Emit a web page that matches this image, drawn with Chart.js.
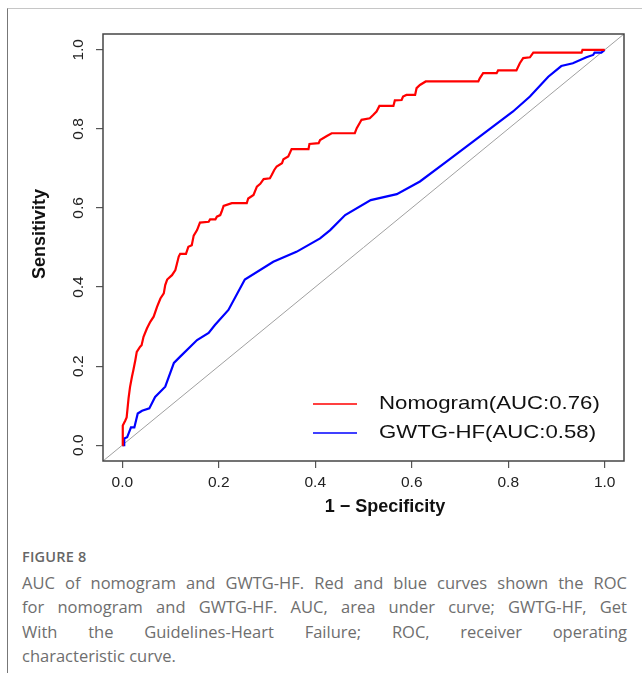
<!DOCTYPE html>
<html>
<head>
<meta charset="utf-8">
<script src="https://cdn.jsdelivr.net/npm/chart.js@4"></script>
<style>
  html, body { margin: 0; padding: 0; background: #fff; }
  body { width: 642px; height: 673px; position: relative; overflow: hidden; }
  #frame { position: absolute; left: 7px; top: 8px; width: 640px; height: 670px;
           border-top: 1px solid #c6c6c6; border-left: 1px solid #777; }
  #wrap { position: absolute; left: 0; top: 0; width: 642px; height: 530px; }
  #caption { position: absolute; left: 22px; top: 547px; width: 605px;
             font-family: 'Open Sans', sans-serif; color: #6e6e6e; }
  #caption .fig { font-size: 14.5px; font-weight: 600; color: #666; line-height: 20px; letter-spacing: .2px; margin-bottom: 4px; }
  #caption .ln { font-size: 16.5px; line-height: 24.3px; white-space: nowrap;
                 text-align: justify; text-align-last: justify; }
  #caption .ln.last { text-align-last: left; }
</style>
</head>
<body>
<div id="frame"></div>
<div id="wrap"><canvas id="roc" width="642" height="530"></canvas></div>
<div id="caption">
  <div class="fig">FIGURE 8</div>
  <div class="ln">AUC of nomogram and GWTG-HF. Red and blue curves shown the ROC</div>
  <div class="ln">for nomogram and GWTG-HF. AUC, area under curve; GWTG-HF, Get</div>
  <div class="ln">With the Guidelines-Heart Failure; ROC, receiver operating</div>
  <div class="ln last">characteristic curve.</div>
</div>
<script>
// ROC points (1 - specificity, sensitivity)
const nomoFpr = [0,0.001,0.006,0.009,0.013,0.016,0.020,0.023,0.027,0.030,0.037,0.040,0.044,0.051,0.058,0.065,0.072,0.079,0.086,0.089,0.093,0.103,0.110,0.117,0.120,0.132,0.137,0.144,0.148,0.155,0.161,0.179,0.182,0.193,0.196,0.203,0.206,0.210,0.227,0.258,0.261,0.272,0.279,0.286,0.293,0.306,0.310,0.315,0.320,0.331,0.334,0.344,0.351,0.386,0.388,0.407,0.410,0.424,0.434,0.482,0.486,0.496,0.513,0.520,0.527,0.533,0.562,0.565,0.579,0.582,0.589,0.607,0.610,0.617,0.629,0.738,0.741,0.748,0.776,0.779,0.817,0.824,0.831,0.845,0.852,0.952,0.954,1.000];
const nomoTpr = [0,0.050,0.062,0.070,0.119,0.147,0.173,0.190,0.215,0.236,0.249,0.253,0.274,0.295,0.312,0.325,0.350,0.371,0.384,0.405,0.419,0.430,0.443,0.477,0.484,0.484,0.502,0.506,0.530,0.544,0.563,0.565,0.571,0.571,0.578,0.582,0.591,0.605,0.612,0.612,0.624,0.633,0.654,0.661,0.673,0.675,0.684,0.696,0.705,0.713,0.723,0.730,0.749,0.749,0.762,0.764,0.772,0.782,0.789,0.789,0.802,0.823,0.827,0.835,0.844,0.858,0.858,0.872,0.873,0.882,0.886,0.886,0.903,0.911,0.920,0.920,0.928,0.941,0.941,0.948,0.948,0.966,0.979,0.981,0.993,0.993,1.000,1.000];

const gwtgFpr = [0,0.004,0.004,0.010,0.018,0.025,0.032,0.041,0.056,0.068,0.089,0.107,0.120,0.155,0.179,0.192,0.220,0.254,0.313,0.361,0.410,0.431,0.462,0.515,0.569,0.617,0.672,0.727,0.810,0.845,0.883,0.910,0.934,0.962,0.976,0.979,0.993,1.000];
const gwtgTpr = [0,0,0.017,0.020,0.045,0.045,0.080,0.087,0.093,0.122,0.148,0.208,0.224,0.266,0.284,0.304,0.342,0.419,0.464,0.489,0.523,0.544,0.582,0.620,0.635,0.667,0.717,0.768,0.844,0.882,0.932,0.959,0.966,0.981,0.987,0.993,0.993,1.000];

const tickValues = [0, 0.2, 0.4, 0.6, 0.8, 1.0];
const axisRange = [-0.04, 1.04];
const seriesLabels = ["Nomogram(AUC:0.76)", "GWTG-HF(AUC:0.58)"];
const seriesColors = ["#ff0000", "#0000ff"];
const xTitle = "1 − Specificity";
const yTitle = "Sensitivity";

const pts = (xs, ys) => xs.map((x, i) => ({ x, y: ys[i] }));
const FONT = "'Liberation Sans', Arial, sans-serif";

// box around the plot region, like R's box()
const boxPlugin = {
  id: "box",
  afterDatasetsDraw(chart) {
    const { ctx, chartArea: a } = chart;
    ctx.save();
    ctx.strokeStyle = "#454545";
    ctx.lineWidth = 1.5;
    ctx.strokeRect(a.left, a.top, a.right - a.left, a.bottom - a.top);
    ctx.restore();
  }
};

// legend inside the plot + axis titles (R puts them a little off-centre here)
const annotate = {
  id: "annotate",
  afterDraw(chart) {
    const { ctx, chartArea: a } = chart;
    ctx.save();
    ctx.textBaseline = "middle";
    seriesLabels.forEach((lab, i) => {
      const y = a.top + 370 + i * 29;
      ctx.strokeStyle = seriesColors[i];
      ctx.lineWidth = 1.4;
      ctx.beginPath(); ctx.moveTo(a.left + 210, y); ctx.lineTo(a.left + 254, y); ctx.stroke();
      ctx.save();
      ctx.translate(a.left + 276, y);
      ctx.scale(1.2, 1);
      ctx.font = "18.5px " + FONT;
      ctx.fillStyle = "#111";
      ctx.fillText(lab, 0, 0);
      ctx.restore();
    });
    ctx.fillStyle = "#111";
    ctx.font = "bold 18px " + FONT;
    ctx.textAlign = "center";
    ctx.fillText(xTitle, a.left + 282, a.bottom + 46);
    ctx.translate(a.left - 63, a.top + 200);
    ctx.rotate(-Math.PI / 2);
    ctx.fillText(yTitle, 0, 0);
    ctx.restore();
  }
};

const fixTicks = s => { s.ticks = tickValues.map(v => ({ value: v })); };

new Chart(document.getElementById("roc"), {
  type: "line",
  data: {
    datasets: [
      { label: seriesLabels[0], data: pts(nomoFpr, nomoTpr), borderColor: seriesColors[0], borderWidth: 2.2 },
      { label: seriesLabels[1], data: pts(gwtgFpr, gwtgTpr), borderColor: seriesColors[1], borderWidth: 2.2 },
      { label: "ref", data: pts(axisRange, axisRange), borderColor: "#a0a0a0", borderWidth: 1 }
    ]
  },
  options: {
    responsive: false,
    animation: false,
    elements: { point: { radius: 0 }, line: { tension: 0, fill: false } },
    layout: { padding: { left: 0, top: 34, right: 18, bottom: 0 } },
    plugins: { legend: { display: false }, tooltip: { enabled: false } },
    scales: {
      x: {
        type: "linear", min: axisRange[0], max: axisRange[1],
        afterBuildTicks: fixTicks,
        afterFit: s => { s.height = 69; },
        grid: { drawOnChartArea: false, drawTicks: true, tickLength: 7, color: "#555", lineWidth: 1.2 },
        border: { display: false },
        ticks: { color: "#222", font: { family: FONT, size: 15.5 }, padding: 5, callback: v => v.toFixed(1) }
      },
      y: {
        type: "linear", min: axisRange[0], max: axisRange[1],
        afterBuildTicks: fixTicks,
        afterFit: s => { s.width = 103; },
        grid: { drawOnChartArea: false, drawTicks: true, tickLength: 7, color: "#555", lineWidth: 1.2 },
        border: { display: false },
        ticks: { color: "#222", font: { family: FONT, size: 15.5 }, padding: 7, minRotation: 90, maxRotation: 90, crossAlign: "center", callback: v => v.toFixed(1) }
      }
    }
  },
  plugins: [boxPlugin, annotate]
});
</script>
</body>
</html>
